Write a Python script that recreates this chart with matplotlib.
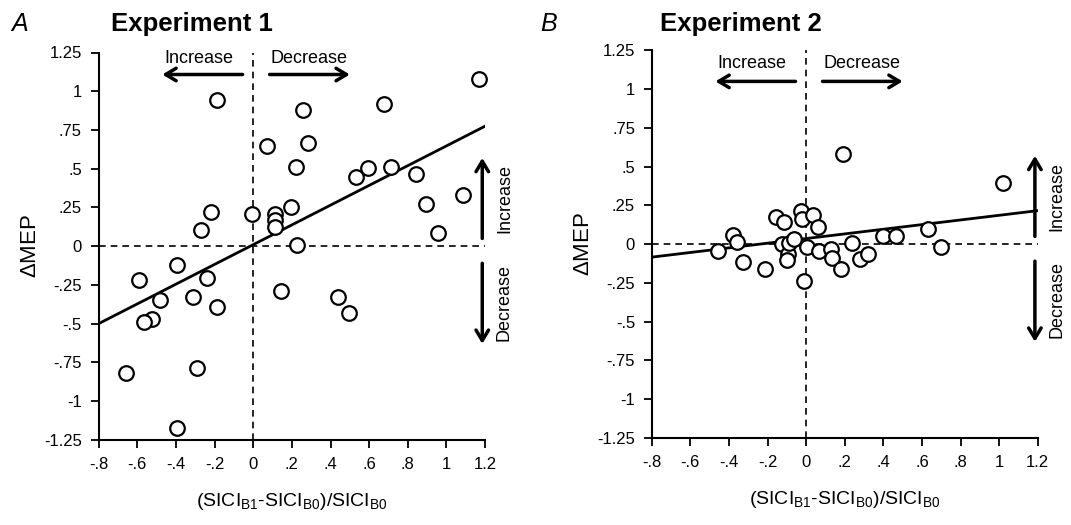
import matplotlib.pyplot as plt
import numpy as np

plt.rcParams['font.family'] = ['Liberation Sans', 'DejaVu Sans']
plt.rcParams['mathtext.default'] = 'regular'

# Experiment 1 data
x1 = [-0.185, 0.074, -0.218, -0.269, -0.007, 0.114, 0.114, 0.114, 0.195, 0.223,
      0.226, 0.26, 0.283, 1.167, 0.675, 0.534, 0.594, 0.715, 0.843, 0.895,
      1.085, 0.955, -0.395, -0.589, -0.24, -0.482, -0.309, -0.188, -0.522, -0.565,
      -0.66, -0.292, -0.392, 0.143, 0.437, 0.497]
y1 = [0.946, 0.645, 0.221, 0.103, 0.206, 0.206, 0.168, 0.125, 0.254, 0.508,
      0.011, 0.882, 0.667, 1.077, 0.92, 0.447, 0.505, 0.508, 0.469, 0.271,
      0.329, 0.086, -0.123, -0.219, -0.202, -0.344, -0.327, -0.392, -0.467, -0.488,
      -0.815, -0.783, -1.17, -0.288, -0.327, -0.43]
fit1_x = [-0.8, 1.2]
fit1_y = [-0.5, 0.775]

# Experiment 2 data
x2 = [0.193, -0.454, -0.38, -0.356, -0.325, -0.212, -0.157, -0.114, -0.123, -0.095,
      -0.1, -0.087, -0.061, -0.026, -0.019, -0.01, 0.007, 0.038, 0.059, 0.067,
      0.13, 0.133, 0.18, 0.24, 0.28, 0.323, 0.397, 0.466, 0.63, 0.699, 1.022]
y2 = [0.581, -0.043, 0.058, 0.015, -0.114, -0.161, 0.176, 0.14, 0.0, -0.065,
      -0.103, 0.008, 0.032, 0.215, 0.161, -0.239, -0.017, 0.187, 0.112, -0.043,
      -0.032, -0.092, -0.161, 0.01, -0.098, -0.062, 0.054, 0.054, 0.095, -0.017, 0.395]
fit2_x = [-0.8, 1.2]
fit2_y = [-0.084, 0.216]

xticks = [-0.8, -0.6, -0.4, -0.2, 0, 0.2, 0.4, 0.6, 0.8, 1, 1.2]
xticklabels = ['-.8', '-.6', '-.4', '-.2', '0', '.2', '.4', '.6', '.8', '1', '1.2']
yticks = [1.25, 1, 0.75, 0.5, 0.25, 0, -0.25, -0.5, -0.75, -1, -1.25]
yticklabels = ['1.25', '1', '.75', '.5', '.25', '0', '-.25', '-.5', '-.75', '-1', '-1.25']

fig = plt.figure(figsize=(10.71, 5.25), dpi=100)
axA = fig.add_axes([0.092, 0.162, 0.361, 0.738])
axB = fig.add_axes([0.6085, 0.166, 0.3605, 0.738])


def panel(ax, x, y, fx, fy, top_y, txt_y):
    ax.axhline(0, color='black', lw=1.2, ls=(0, (4, 3)))
    ax.axvline(0, color='black', lw=1.2, ls=(0, (4, 3)))
    ax.plot(fx, fy, color='black', lw=2)
    ax.plot(x, y, linestyle='', marker='o', markersize=10.5, markerfacecolor='white',
            markeredgecolor='black', markeredgewidth=1.6, clip_on=False, zorder=5)
    ax.set_xlim(-0.8, 1.2)
    ax.set_ylim(-1.25, 1.25)
    ax.set_xticks(xticks)
    ax.set_xticklabels(xticklabels)
    ax.set_yticks(yticks)
    ax.set_yticklabels(yticklabels)
    ax.tick_params(axis='both', labelsize=12, direction='out', length=6, width=1.3, pad=6)
    for s in ['top', 'right']:
        ax.spines[s].set_visible(False)
    for s in ['left', 'bottom']:
        ax.spines[s].set_linewidth(1.5)
    ax.set_ylabel(r'$\Delta$MEP', fontsize=16, labelpad=2)
    ax.set_xlabel(r'(SICI$_{B1}$-SICI$_{B0}$)/SICI$_{B0}$', fontsize=14, labelpad=14)

    arr = dict(arrowstyle='->,head_length=0.75,head_width=0.45', lw=2.5, color='black',
               shrinkA=0, shrinkB=0)
    # horizontal arrows at the top
    ax.annotate('', xy=(-0.47, top_y), xytext=(-0.055, top_y), arrowprops=arr)
    ax.annotate('', xy=(0.5, top_y), xytext=(0.085, top_y), arrowprops=arr)
    ax.text(-0.28, txt_y, 'Increase', fontsize=13, ha='center', va='center')
    ax.text(0.29, txt_y, 'Decrease', fontsize=13, ha='center', va='center')
    # vertical arrows on the right
    ax.annotate('', xy=(1.185, 0.57), xytext=(1.185, 0.05), arrowprops=arr,
                annotation_clip=False)
    ax.annotate('', xy=(1.185, -0.63), xytext=(1.185, -0.11), arrowprops=arr,
                annotation_clip=False)
    ax.text(1.3, 0.31, 'Increase', fontsize=13, rotation=90, ha='center', va='center')
    ax.text(1.3, -0.36, 'Decrease', fontsize=13, rotation=90, ha='center', va='center')


panel(axA, x1, y1, fit1_x, fit1_y, 1.108, 1.21)
panel(axB, x2, y2, fit2_x, fit2_y, 1.05, 1.166)

fig.text(0.018, 0.955, 'A', fontsize=18, style='italic', ha='center', va='center')
fig.text(0.179, 0.955, 'Experiment 1', fontsize=18.5, fontweight='bold', ha='center', va='center')
fig.text(0.512, 0.955, 'B', fontsize=18, style='italic', ha='center', va='center')
fig.text(0.692, 0.955, 'Experiment 2', fontsize=18.5, fontweight='bold', ha='center', va='center')

fig.savefig('out.png', dpi=100)
